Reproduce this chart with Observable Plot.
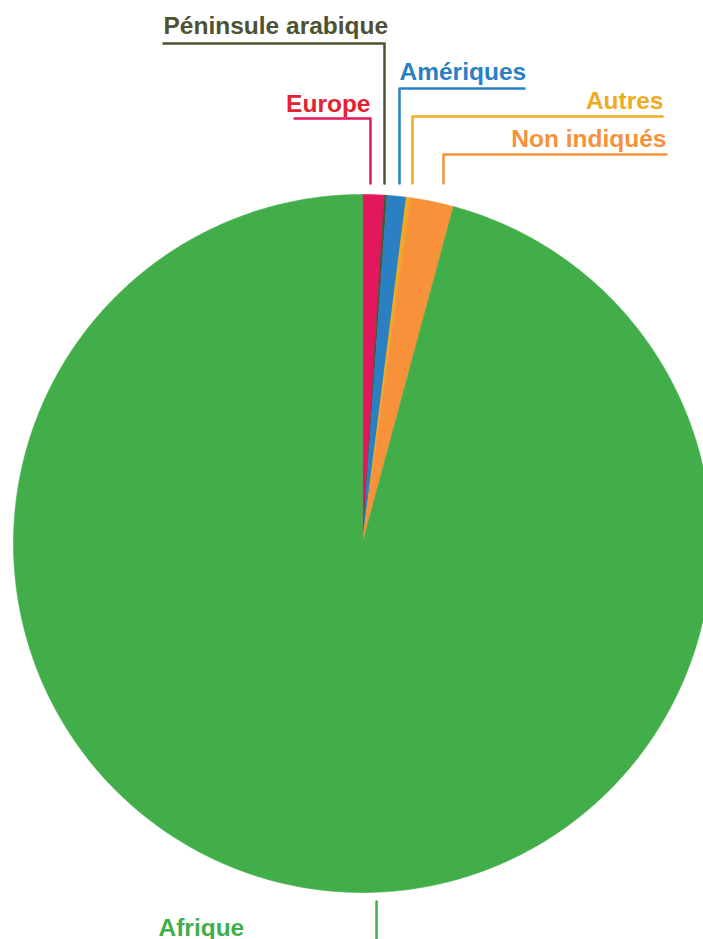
<!DOCTYPE html>
<html>
<head>
<meta charset="utf-8">
<script src="https://cdn.jsdelivr.net/npm/d3@7"></script>
<script src="https://cdn.jsdelivr.net/npm/@observablehq/plot@0.6"></script>
<style>
  html, body { margin: 0; padding: 0; background: #fff; }
  #chart svg { display: block; }
</style>
</head>
<body>
<div id="chart"></div>
<script>
// ---- data ----
const regions = ["Europe", "Péninsule arabique", "Amériques", "Autres", "Non indiqués", "Afrique"];
const shares = [1.0, 0.12, 0.88, 0.2, 2.0, 95.8];
const sliceColors = ["#e3175b", "#4e5230", "#2a80c3", "#f0aa22", "#f7923a", "#41ae4a"];
const labelColors = ["#e4222f", "#4e5230", "#2a80c3", "#f0aa22", "#f7923a", "#41ae4a"];

// ---- layout (pixels, relative to pie centre) ----
const W = 703, H = 939;
const CX = 362, CY = 543, R = 349;
// label layout: leader x, elbow y, horizontal end x, text x, text y, anchor
const labelLayout = [
  {lx: 8,   ly: -425, hx: -68, tx: 8,    ty: -432, anchor: "end"},
  {lx: 22,  ly: -500, hx: -199, tx: -199, ty: -510, anchor: "start"},
  {lx: 37,  ly: -455, hx: 162, tx: 37,   ty: -464, anchor: "start"},
  {lx: 50,  ly: -427, hx: 300, tx: 301,  ty: -435, anchor: "end"},
  {lx: 81,  ly: -389, hx: 304, tx: 304,  ty: -397, anchor: "end"},
  {lx: 14,  ly: 358,  hx: 14,  tx: -204, ty: 392,  anchor: "start", below: true}
];
const leaderBase = -360;   // y where top leader lines stop above the pie

const pie = d3.pie().sort(null).value(d => d)(shares);
const slicePts = [];
pie.forEach((p, i) => {
  const n = Math.max(4, Math.ceil((p.endAngle - p.startAngle) * 120));
  slicePts.push({k: i, x: 0, y: 0});
  for (let j = 0; j <= n; j++) {
    const a = p.startAngle + (p.endAngle - p.startAngle) * j / n;
    slicePts.push({k: i, x: R * Math.sin(a), y: -R * Math.cos(a)});
  }
  slicePts.push({k: i, x: 0, y: 0});
});

const leaderPts = [];
labelLayout.forEach((L, i) => {
  if (L.below) {
    leaderPts.push({k: i, x: L.lx, y: L.ly}, {k: i, x: L.lx, y: H - CY + 5});
  } else {
    leaderPts.push({k: i, x: L.lx, y: leaderBase}, {k: i, x: L.lx, y: L.ly}, {k: i, x: L.hx, y: L.ly});
  }
});
const labels = regions.map((r, i) => ({name: r, i, ...labelLayout[i]}));

const chart = Plot.plot({
  width: W, height: H,
  margin: 0,
  x: {domain: [-CX, W - CX], range: [0, W], axis: null},
  y: {domain: [-CY, H - CY], range: [0, H], axis: null},
  style: {fontFamily: "'Liberation Sans', Arial, sans-serif", background: "#fff"},
  marks: [
    Plot.line(slicePts, {x: "x", y: "y", z: "k", fill: d => sliceColors[d.k], stroke: d => sliceColors[d.k], strokeWidth: 0.6, curve: "linear"}),
    Plot.line(leaderPts, {x: "x", y: "y", z: "k", stroke: d => sliceColors[d.k], strokeWidth: 2.5, curve: "linear"}),
    Plot.text(labels.filter(d => d.anchor === "start"), {x: "tx", y: "ty", text: "name", fill: d => labelColors[d.i], textAnchor: "start", lineAnchor: "bottom", fontSize: 24.5, fontWeight: "bold"}),
    Plot.text(labels.filter(d => d.anchor === "end"), {x: "tx", y: "ty", text: "name", fill: d => labelColors[d.i], textAnchor: "end", lineAnchor: "bottom", fontSize: 24.5, fontWeight: "bold"})
  ]
});
document.getElementById("chart").appendChild(chart);
</script>
</body>
</html>
